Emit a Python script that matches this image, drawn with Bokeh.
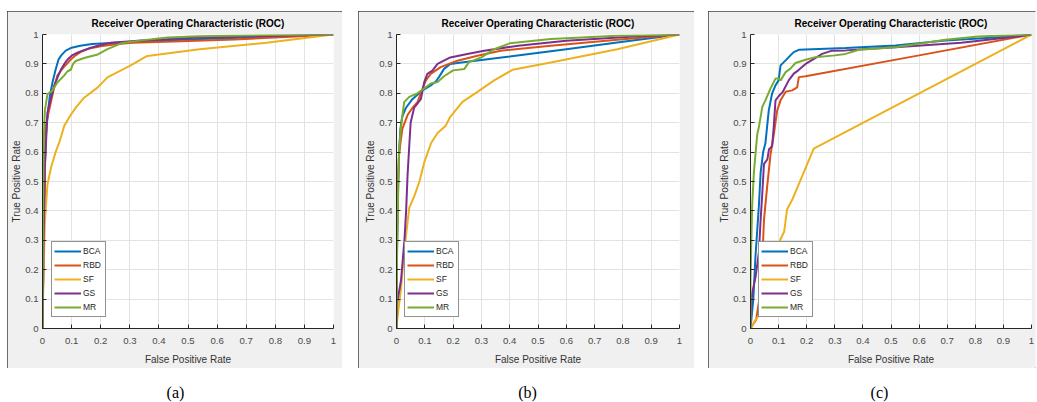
from bokeh.plotting import figure
from bokeh.models import Range1d, FixedTicker, Legend, LegendItem, Spacer
from bokeh.layouts import row, column
from bokeh.embed import file_html
from bokeh.resources import INLINE
from bokeh.core.properties import value

FONT = "Liberation Sans"
SERIF = "Liberation Serif"

# ---------------- data ----------------
methods = ["BCA", "RBD", "SF", "GS", "MR"]
colors = ["#0072BD", "#D95319", "#EDB120", "#7E2F8E", "#77AC30"]
ticks = [0, 0.1, 0.2, 0.3, 0.4, 0.5, 0.6, 0.7, 0.8, 0.9, 1]
tick_labels = ["0", "0.1", "0.2", "0.3", "0.4", "0.5", "0.6", "0.7", "0.8", "0.9", "1"]
panel_labels = ["(a)", "(b)", "(c)"]
title_text = "Receiver Operating Characteristic (ROC)"
x_label = "False Positive Rate"
y_label = "True Positive Rate"

# panel (a)
a_bca_fpr = [0, 0.002, 0.005, 0.008, 0.012, 0.018, 0.025, 0.035, 0.045, 0.055, 0.065, 0.08, 0.1, 0.13, 0.17, 0.25, 0.35, 0.5, 0.7, 0.85, 1.0]
a_bca_tpr = [0, 0.15, 0.35, 0.55, 0.66, 0.73, 0.79, 0.84, 0.88, 0.915, 0.93, 0.945, 0.955, 0.962, 0.968, 0.972, 0.976, 0.983, 0.99, 0.995, 1.0]
a_rbd_fpr = [0, 0.003, 0.007, 0.011, 0.02, 0.029, 0.04, 0.051, 0.062, 0.074, 0.086, 0.097, 0.115, 0.13, 0.16, 0.2, 0.25, 0.31, 0.45, 0.66, 0.89, 1.0]
a_rbd_tpr = [0, 0.2, 0.45, 0.69, 0.73, 0.77, 0.82, 0.86, 0.875, 0.89, 0.903, 0.915, 0.93, 0.94, 0.952, 0.96, 0.967, 0.972, 0.976, 0.983, 0.994, 1.0]
a_sf_fpr = [0, 0, 0.004, 0.008, 0.017, 0.03, 0.045, 0.06, 0.075, 0.097, 0.115, 0.143, 0.19, 0.223, 0.3, 0.36, 0.54, 0.77, 1.0]
a_sf_tpr = [0, 0.03, 0.2, 0.36, 0.49, 0.55, 0.6, 0.64, 0.69, 0.726, 0.752, 0.785, 0.82, 0.854, 0.893, 0.927, 0.95, 0.972, 1.0]
a_gs_fpr = [0, 0.003, 0.008, 0.017, 0.028, 0.04, 0.052, 0.063, 0.075, 0.086, 0.1, 0.12, 0.14, 0.166, 0.2, 0.235, 0.34, 0.54, 0.8, 1.0]
a_gs_tpr = [0, 0.25, 0.55, 0.735, 0.78, 0.825, 0.855, 0.88, 0.9, 0.915, 0.928, 0.938, 0.946, 0.955, 0.964, 0.972, 0.98, 0.99, 0.996, 1.0]
a_mr_fpr = [0, 0, 0.002, 0.004, 0.008, 0.017, 0.034, 0.051, 0.074, 0.086, 0.097, 0.105, 0.114, 0.143, 0.19, 0.223, 0.27, 0.34, 0.43, 0.54, 0.75, 1.0]
a_mr_tpr = [0, 0.05, 0.4, 0.63, 0.74, 0.797, 0.81, 0.837, 0.86, 0.875, 0.88, 0.9, 0.91, 0.92, 0.932, 0.95, 0.97, 0.98, 0.99, 0.994, 0.998, 1.0]

# panel (b)
b_bca_fpr = [0, 0.002, 0.005, 0.009, 0.014, 0.02, 0.033, 0.056, 0.092, 0.121, 0.139, 0.15, 0.168, 0.19, 0.25, 0.4, 0.6, 0.8, 1.0]
b_bca_tpr = [0, 0.28, 0.45, 0.6, 0.68, 0.72, 0.75, 0.78, 0.81, 0.827, 0.84, 0.855, 0.883, 0.9, 0.907, 0.925, 0.95, 0.975, 1.0]
b_rbd_fpr = [0, 0.002, 0.005, 0.009, 0.015, 0.021, 0.039, 0.056, 0.074, 0.092, 0.104, 0.121, 0.156, 0.215, 0.286, 0.368, 0.545, 0.78, 1.0]
b_rbd_tpr = [0, 0.3, 0.5, 0.59, 0.64, 0.68, 0.726, 0.75, 0.77, 0.816, 0.844, 0.866, 0.889, 0.911, 0.928, 0.945, 0.962, 0.982, 1.0]
b_sf_fpr = [0, 0.002, 0.016, 0.028, 0.045, 0.063, 0.081, 0.098, 0.122, 0.145, 0.174, 0.19, 0.233, 0.286, 0.345, 0.41, 0.545, 0.78, 1.0]
b_sf_tpr = [0, 0.025, 0.137, 0.27, 0.41, 0.45, 0.5, 0.565, 0.63, 0.665, 0.69, 0.72, 0.771, 0.805, 0.844, 0.88, 0.905, 0.95, 1.0]
b_gs_fpr = [0, 0.002, 0.016, 0.028, 0.034, 0.039, 0.045, 0.05, 0.062, 0.086, 0.098, 0.109, 0.127, 0.145, 0.19, 0.25, 0.31, 0.43, 0.6, 0.84, 1.0]
b_gs_tpr = [0, 0.086, 0.164, 0.3, 0.4, 0.52, 0.62, 0.7, 0.75, 0.78, 0.838, 0.866, 0.877, 0.9, 0.922, 0.934, 0.945, 0.962, 0.979, 0.993, 1.0]
b_mr_fpr = [0, 0, 0.002, 0.006, 0.009, 0.015, 0.027, 0.045, 0.074, 0.121, 0.145, 0.168, 0.2, 0.24, 0.256, 0.3, 0.345, 0.4, 0.545, 0.78, 1.0]
b_mr_tpr = [0, 0.025, 0.25, 0.47, 0.6, 0.68, 0.77, 0.788, 0.8, 0.833, 0.838, 0.858, 0.878, 0.883, 0.906, 0.922, 0.95, 0.97, 0.985, 0.996, 1.0]

# panel (c)
c_bca_fpr = [0, 0.005, 0.01, 0.018, 0.03, 0.036, 0.045, 0.053, 0.065, 0.077, 0.089, 0.1, 0.107, 0.125, 0.142, 0.154, 0.172, 0.338, 0.516, 0.694, 0.87, 1.0]
c_bca_tpr = [0, 0.05, 0.1, 0.25, 0.42, 0.53, 0.6, 0.63, 0.742, 0.8, 0.827, 0.844, 0.895, 0.912, 0.929, 0.94, 0.948, 0.954, 0.963, 0.98, 0.99, 1.0]
c_rbd_fpr = [0, 0.02, 0.035, 0.042, 0.048, 0.059, 0.071, 0.083, 0.095, 0.107, 0.125, 0.148, 0.166, 0.172, 0.196, 0.6, 1.0]
c_rbd_tpr = [0, 0.03, 0.12, 0.234, 0.37, 0.48, 0.59, 0.66, 0.742, 0.776, 0.805, 0.81, 0.82, 0.855, 0.858, 0.929, 1.0]
c_sf_fpr = [0, 0.018, 0.04, 0.06, 0.08, 0.1, 0.12, 0.13, 0.148, 0.225, 1.0]
c_sf_tpr = [0, 0.03, 0.055, 0.1, 0.2, 0.29, 0.33, 0.405, 0.437, 0.612, 1.0]
c_gs_fpr = [0, 0, 0.006, 0.018, 0.03, 0.036, 0.042, 0.048, 0.06, 0.066, 0.077, 0.083, 0.089, 0.1, 0.115, 0.136, 0.154, 0.17, 0.196, 0.22, 0.255, 0.29, 0.338, 0.516, 0.75, 0.9, 1.0]
c_gs_tpr = [0, 0.04, 0.12, 0.175, 0.26, 0.37, 0.46, 0.56, 0.575, 0.61, 0.62, 0.69, 0.776, 0.79, 0.805, 0.844, 0.867, 0.878, 0.9, 0.914, 0.934, 0.945, 0.946, 0.957, 0.972, 0.988, 1.0]
c_mr_fpr = [0, 0, 0.003, 0.006, 0.012, 0.024, 0.03, 0.042, 0.053, 0.071, 0.089, 0.1, 0.107, 0.125, 0.142, 0.16, 0.196, 0.231, 0.3, 0.338, 0.386, 0.516, 0.694, 0.81, 1.0]
c_mr_tpr = [0, 0.16, 0.3, 0.42, 0.53, 0.66, 0.686, 0.754, 0.776, 0.816, 0.85, 0.85, 0.844, 0.872, 0.884, 0.903, 0.914, 0.923, 0.929, 0.934, 0.948, 0.957, 0.982, 0.993, 1.0]

panel_a = {"BCA": (a_bca_fpr, a_bca_tpr), "RBD": (a_rbd_fpr, a_rbd_tpr), "SF": (a_sf_fpr, a_sf_tpr),
           "GS": (a_gs_fpr, a_gs_tpr), "MR": (a_mr_fpr, a_mr_tpr)}
panel_b = {"BCA": (b_bca_fpr, b_bca_tpr), "RBD": (b_rbd_fpr, b_rbd_tpr), "SF": (b_sf_fpr, b_sf_tpr),
           "GS": (b_gs_fpr, b_gs_tpr), "MR": (b_mr_fpr, b_mr_tpr)}
panel_c = {"BCA": (c_bca_fpr, c_bca_tpr), "RBD": (c_rbd_fpr, c_rbd_tpr), "SF": (c_sf_fpr, c_sf_tpr),
           "GS": (c_gs_fpr, c_gs_tpr), "MR": (c_mr_fpr, c_mr_tpr)}

# ---------------- layout (page pixels) ----------------
PAGE_W, PAGE_H = 1037, 402
BOX_T, BOX_B = 11, 368
PANEL_H = BOX_B - BOX_T
LABEL_BASE = 392

specs = [
    dict(bl=7, br=342, fl=42, fr=333, ft=32, fb=328, leg=(9, 11), cx=175, cut_right=False),
    dict(bl=358, br=694, fl=396, fr=679, ft=32, fb=329, leg=(8, 11), cx=527, cut_right=False),
    dict(bl=708, br=1037, fl=750, fr=1031, ft=34, fb=329, leg=(8, 11), cx=879, cut_right=True),
]


def make_panel(curves, s):
    width = s["br"] - s["bl"]
    border_l = s["fl"] - s["bl"]
    border_r = s["br"] - s["fr"]
    border_t = s["ft"] - BOX_T
    border_b = BOX_B - s["fb"]
    css = {"outline": "1.5px solid #404040", "outline-offset": "-1.5px"}
    if s["cut_right"]:
        css["clip-path"] = "inset(0px 1.5px 0px 0px)"
    p = figure(width=width, height=PANEL_H, output_backend="svg", toolbar_location=None,
               x_range=Range1d(0, 1), y_range=Range1d(0, 1),
               min_border_left=border_l, min_border_right=border_r,
               min_border_top=border_t, min_border_bottom=border_b,
               background_fill_color="white", border_fill_color="#f0f0f0",
               outline_line_color=None, title=title_text, styles=css)
    p.title.align = "center"
    p.title.vertical_align = "middle"
    p.title.text_font = FONT
    p.title.text_font_size = "10px"
    p.title.text_font_style = "bold"
    p.title.text_color = "#000000"
    p.title.standoff = 9

    for ax in (p.xaxis[0], p.yaxis[0]):
        ax.ticker = FixedTicker(ticks=ticks)
        ax.major_label_overrides = dict(zip(ticks, tick_labels))
        ax.major_tick_in = 4
        ax.major_tick_out = 0
        ax.minor_tick_in = 0
        ax.minor_tick_out = 0
        ax.axis_line_color = "#262626"
        ax.axis_line_width = 1
        ax.major_tick_line_color = "#262626"
        ax.major_label_text_font = FONT
        ax.major_label_text_font_size = "9.6px"
        ax.major_label_text_color = "#4a4a4a"
        ax.axis_label_text_font = FONT
        ax.axis_label_text_font_size = "10px"
        ax.axis_label_text_font_style = "normal"
        ax.axis_label_text_color = "#333333"
    p.xaxis[0].axis_label = x_label
    p.yaxis[0].axis_label = y_label
    p.xaxis[0].major_label_standoff = 9
    p.xaxis[0].axis_label_standoff = 7
    p.yaxis[0].major_label_standoff = 4
    p.yaxis[0].axis_label_standoff = 0

    p.grid.grid_line_color = "#e3e3e3"
    p.grid.grid_line_width = 1
    p.grid.ticker = FixedTicker(ticks=ticks)

    rends = []
    for name, col in zip(methods, colors):
        fpr, tpr = curves[name]
        rends.append(p.line(fpr, tpr, line_color=col, line_width=2))

    legend = Legend(items=[LegendItem(label=n, renderers=[r]) for n, r in zip(methods, rends)],
                    location=s["leg"], orientation="vertical",
                    label_text_font=FONT, label_text_font_size="8.5px", label_text_color="#262626",
                    glyph_width=27, glyph_height=14, label_height=14, label_standoff=2,
                    spacing=0, padding=2, margin=0,
                    border_line_color="#262626", border_line_width=1,
                    background_fill_color="white", background_fill_alpha=1)
    p.add_layout(legend)
    return p


figs = [make_panel(c, s) for c, s in zip([panel_a, panel_b, panel_c], specs)]

children = []
prev = 0
for f, s in zip(figs, specs):
    gap = s["bl"] - prev
    if gap > 0:
        children.append(Spacer(width=gap, height=PANEL_H))
    children.append(f)
    prev = s["br"]
panels_row = row(*children)

LABEL_H = PAGE_H - BOX_B
lab = figure(width=PAGE_W, height=LABEL_H, output_backend="svg", toolbar_location=None,
             x_range=Range1d(0, PAGE_W), y_range=Range1d(0, LABEL_H), title=None,
             min_border=0, outline_line_color=None, x_axis_type=None, y_axis_type=None,
             background_fill_color="white", border_fill_color="white")
lab.grid.visible = False
lab.text(x=[s["cx"] for s in specs], y=[PAGE_H - LABEL_BASE] * 3, text=panel_labels,
         text_font=value(SERIF), text_font_size="16px", text_align="center",
         text_baseline="alphabetic", text_color="#000000")

root = column(Spacer(width=PAGE_W, height=BOX_T), panels_row, lab)

open("out.html", "w").write(file_html(root, INLINE))
